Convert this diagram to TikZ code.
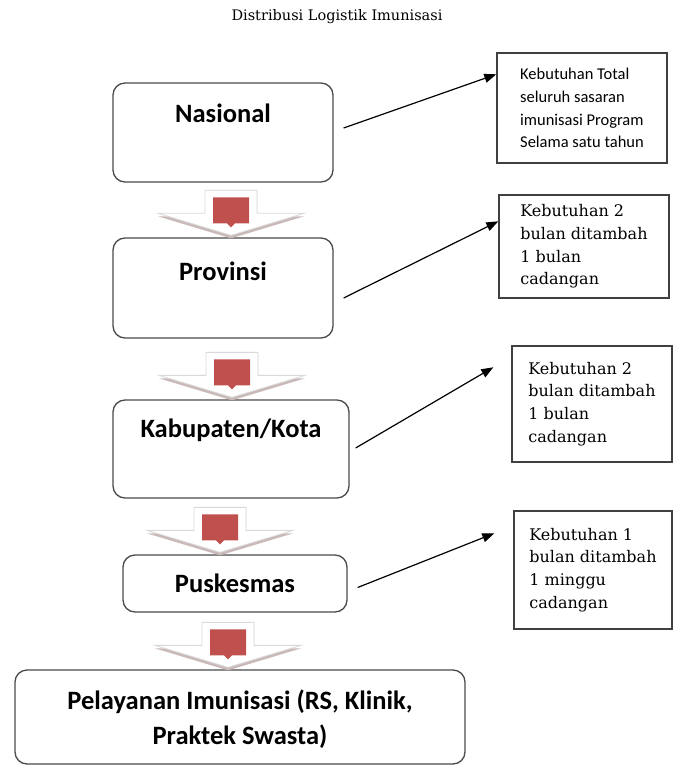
\documentclass[tikz,border=0pt]{standalone}
\usepackage{fontspec}
\setmainfont{DejaVu Serif}
\newfontfamily\calibri{Carlito}
\usetikzlibrary{arrows.meta,positioning,calc}
\definecolor{cCore}{HTML}{C0504D}
\definecolor{cShade}{HTML}{C9B9B9}
\definecolor{cEdge}{HTML}{4A4A4A}
\tikzset{
  title/.style    = {font=\fontsize{14.5}{17}\selectfont},
  stage/.style    = {draw=cEdge, line width=1.3pt, rounded corners=12pt,
                     align=center, inner sep=0pt,
                     font=\calibri\bfseries\fontsize{26.5}{35}\selectfont},
  need/.style     = {draw=black!75, line width=1.4pt, align=left, inner sep=0pt,
                     font=\fontsize{16}{22.7}\selectfont},
  needsans/.style = {need, font=\calibri\fontsize{16.5}{22.7}\selectfont},
  flowshade/.style = {fill=cShade},
  flowbody/.style  = {fill=white, draw=black!15, line width=0.8pt},
  flowcore/.style  = {fill=cCore},
  pointer/.style   = {-{Triangle[length=12pt,width=9pt]}, line width=1.2pt},
}
\begin{document}
\begin{tikzpicture}[x=1pt, y=-1pt]
  \useasboundingbox (0,0) rectangle (674,767);
  % title
  \node[title] (ttl) at (337,17) {Distribusi Logistik Imunisasi};
  % levels of distribution
  \node[stage, minimum width=220pt, minimum height=99pt,
        text height=17pt, text depth=36pt] (nas) at (223,132.5) {Nasional};
  \node[stage, minimum width=220pt, minimum height=100pt,
        text height=17pt, text depth=33pt] (prov) at (223,288) {Provinsi};
  \node[stage, minimum width=236pt, minimum height=98pt,
        text height=17pt, text depth=41pt] (kab) at (231,449) {Kabupaten/Kota};
  \node[stage, minimum width=224pt, minimum height=57pt,
        text height=17pt, text depth=0pt] (pusk) at (235,583.5) {Puskesmas};
  \node[stage, minimum width=450pt, minimum height=94pt,
        text depth=0pt] (pel) at (240,717)
    {Pelayanan Imunisasi (RS, Klinik,\\ Praktek Swasta)};
  % needs per level
  \node[needsans, minimum width=170pt, minimum height=110pt] (kA) at (582,108)
    {Kebutuhan Total\\ seluruh sasaran\\ imunisasi Program\\ Selama satu tahun};
  \node[need, minimum width=170pt, minimum height=103pt] (kB) at (584,246.5)
    {Kebutuhan 2\\ bulan ditambah\\ 1 bulan\\ cadangan};
  \node[need, minimum width=160pt, minimum height=116pt] (kC) at (592,404)
    {Kebutuhan 2\\ bulan ditambah\\ 1 bulan\\ cadangan};
  \node[need, minimum width=158pt, minimum height=118pt] (kD) at (593,570)
    {Kebutuhan 1\\ bulan ditambah\\ 1 minggu\\ cadangan};
  % block arrows between levels
  \foreach \lvl/\dx in {prov/8, kab/1, pusk/-15, pel/-12} {
    \coordinate (tip) at ($(\lvl.north)+(\dx,-2)$);
    \begin{scope}[shift={(tip)}]
      \fill[flowshade] (-73,-19) -- (0,3) -- (73,-19) -- (26,-19)
        -- (26,-45) -- (-26,-45) -- (-26,-19) -- cycle;
      \filldraw[flowbody] (-73,-22) -- (0,0) -- (73,-22) -- (26,-22)
        -- (26,-45) -- (-26,-45) -- (-26,-22) -- cycle;
      \fill[flowcore] (-18,-38) -- (18,-38) -- (18,-12) -- (4,-12)
        -- (0,-8) -- (-4,-12) -- (-18,-12) -- cycle;
    \end{scope}
  }
  % pointers to the needs
  \draw[pointer] ([xshift=10pt,yshift=4.5pt]nas.east) -- ([yshift=-22pt]kA.north west);
  \draw[pointer] ([xshift=10pt,yshift=-10pt]prov.east) -- ([yshift=-27pt]kB.north west);
  \draw[pointer] ([xshift=6pt,yshift=1pt]kab.east)
    -- ([xshift=-18pt,yshift=-22pt]kC.north west);
  \draw[pointer] ([xshift=10pt,yshift=-4pt]pusk.east)
    -- ([xshift=-19pt,yshift=-23pt]kD.north west);
\end{tikzpicture}
\end{document}
